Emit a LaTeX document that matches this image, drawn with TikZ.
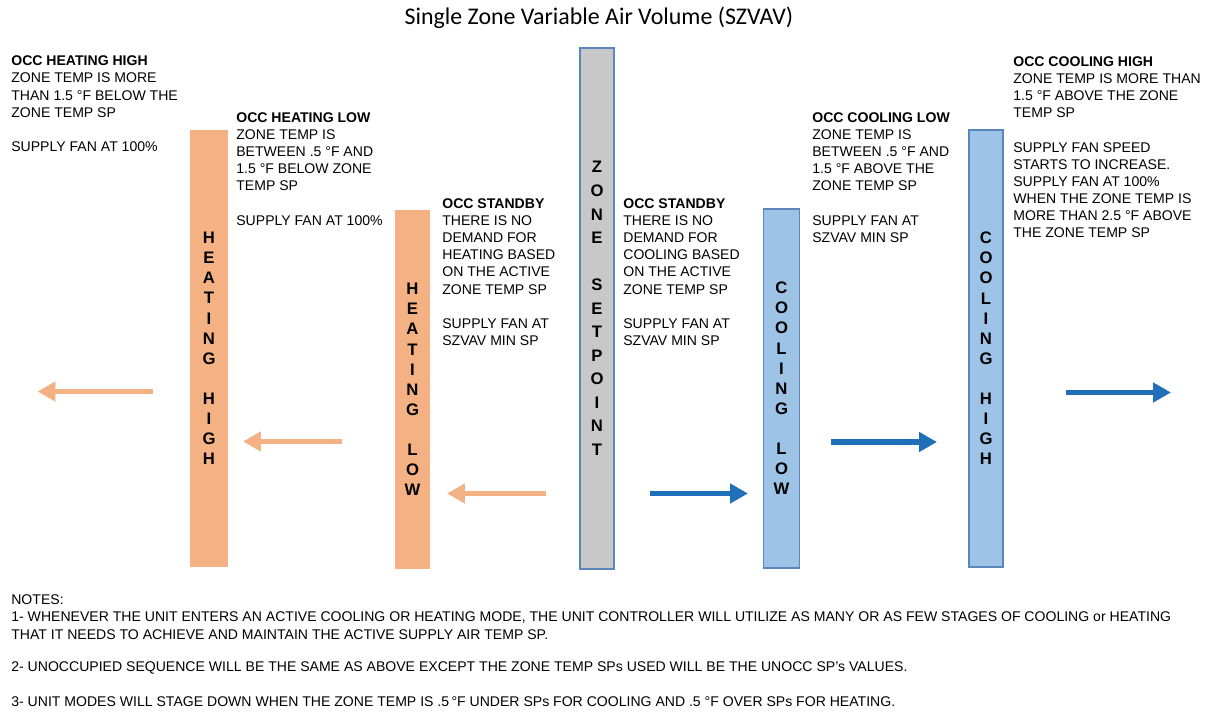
\documentclass[tikz,border=0pt]{standalone}
\usepackage{fontspec}
\setmainfont{Liberation Sans}
\newfontfamily\titlefont{Carlito}
\usepackage{tikz}
\usetikzlibrary{arrows.meta}

\definecolor{heatorange}{HTML}{F4B183}
\definecolor{coolblue}{HTML}{9DC3E6}
\definecolor{edgeblue}{HTML}{5A86BC}
\definecolor{spgray}{HTML}{C8C8CA}
\definecolor{arrowblue}{HTML}{1F70B8}

\tikzset{
  txt/.style={anchor=north west, align=left, inner sep=0pt, font=\fontsize{8}{9.75}\selectfont},
  bar/.style={rectangle, inner sep=0pt, align=center, font=\fontsize{9.5}{11.45}\selectfont\bfseries},
  heatbar/.style={bar, fill=heatorange},
  coolbar/.style={bar, fill=coolblue, draw=edgeblue, line width=1pt},
  heatarrow/.style={heatorange, line width=3.4pt, -{Triangle[width=10.8pt,length=10.2pt]}},
  coolarrow/.style={arrowblue, line width=3.4pt, -{Triangle[width=10.8pt,length=10.2pt]}}
}

\begin{document}
\begin{tikzpicture}[x=0.02cm, y=-0.02cm]

%\draw[help lines, step=50] (0,0) grid (1205,713);
\useasboundingbox (0,0) rectangle (1205,713);

\node[anchor=base, inner sep=0pt, font=\titlefont\fontsize{13.6}{16}\selectfont] (title) at (599,25) {Single Zone Variable Air Volume (SZVAV)};

% bars
\node[heatbar, minimum width=0.76cm, minimum height=8.74cm] (hhigh) at (209,348.5) {H\\E\\A\\T\\I\\N\\G\\[11.45pt]H\\I\\G\\H};
\node[heatbar, minimum width=0.70cm, minimum height=7.18cm] (hlow) at (412.5,389.5) {H\\E\\A\\T\\I\\N\\G\\[11.45pt]L\\O\\W};
\node[bar, fill=spgray, draw=edgeblue, line width=1pt, minimum width=0.68cm, minimum height=10.42cm,
      font=\fontsize{9.5}{13.4}\selectfont\bfseries] (zsp) at (597,308.5) {Z\\O\\N\\E\\[13.4pt]S\\E\\T\\P\\O\\I\\N\\T};
\node[coolbar, minimum width=0.72cm, minimum height=7.18cm] (clow) at (781.5,388.5) {C\\O\\O\\L\\I\\N\\G\\[11.45pt]L\\O\\W};
\node[coolbar, minimum width=0.68cm, minimum height=8.74cm] (chigh) at (986,348.5) {C\\O\\O\\L\\I\\N\\G\\[11.45pt]H\\I\\G\\H};

% mode texts (top = first baseline - cap height)
\node[txt] (hhightxt) at (11,55.7) {\textbf{OCC HEATING HIGH}\\ZONE TEMP IS MORE\\THAN 1.5 °F BELOW THE\\ZONE TEMP SP\\[9.75pt]SUPPLY FAN AT 100\%};
\node[txt] (hlowtxt) at (236,112.2) {\textbf{OCC HEATING LOW}\\ZONE TEMP IS\\BETWEEN .5 °F AND\\1.5 °F BELOW ZONE\\TEMP SP\\[9.75pt]SUPPLY FAN AT 100\%};
\node[txt] (hstbtxt) at (442,198.2) {\textbf{OCC STANDBY}\\THERE IS NO\\DEMAND FOR\\HEATING BASED\\ON THE ACTIVE\\ZONE TEMP SP\\[9.75pt]SUPPLY FAN AT\\SZVAV MIN SP};
\node[txt] (cstbtxt) at (623,198.2) {\textbf{OCC STANDBY}\\THERE IS NO\\DEMAND FOR\\COOLING BASED\\ON THE ACTIVE\\ZONE TEMP SP\\[9.75pt]SUPPLY FAN AT\\SZVAV MIN SP};
\node[txt] (clowtxt) at (812,112.2) {\textbf{OCC COOLING LOW}\\ZONE TEMP IS\\BETWEEN .5 °F AND\\1.5 °F ABOVE THE\\ZONE TEMP SP\\[9.75pt]SUPPLY FAN AT\\SZVAV MIN SP};
\node[txt] (chightxt) at (1013,56.2) {\textbf{OCC COOLING HIGH}\\ZONE TEMP IS MORE THAN\\1.5 °F ABOVE THE ZONE\\TEMP SP\\[9.75pt]SUPPLY FAN SPEED\\STARTS TO INCREASE.\\SUPPLY FAN AT 100\%\\WHEN THE ZONE TEMP IS\\MORE THAN 2.5 °F ABOVE\\THE ZONE TEMP SP};

% arrow ends
\coordinate (ha1) at (152.5,391.5);
\coordinate (hb1) at (37.5,391.5);
\coordinate (ha2) at (342,441.5);
\coordinate (hb2) at (243,441.5);
\coordinate (ha3) at (545.5,493.5);
\coordinate (hb3) at (447,493.5);
\coordinate (ca3) at (650,493.5);
\coordinate (cb3) at (748,493.5);
\coordinate (ca2) at (831,442);
\coordinate (cb2) at (937,442);
\coordinate (ca1) at (1066,392.5);
\coordinate (cb1) at (1171,392.5);

\draw[heatarrow] (ha1) -- (hb1); % heating high
\draw[heatarrow] (ha2) -- (hb2); % heating low
\draw[heatarrow] (ha3) -- (hb3); % standby
\draw[coolarrow] (ca3) -- (cb3); % standby
\draw[coolarrow] (ca2) -- (cb2); % cooling low
\draw[coolarrow] (ca1) -- (cb1); % cooling high

% notes
\node[txt] (notes) at (11,594.7) {NOTES:\\1- WHENEVER THE UNIT ENTERS AN ACTIVE COOLING OR HEATING MODE, THE UNIT CONTROLLER WILL UTILIZE AS MANY OR AS FEW STAGES OF COOLING or HEATING\\THAT IT NEEDS TO ACHIEVE AND MAINTAIN THE ACTIVE SUPPLY AIR TEMP SP.\\[8.5pt]2- UNOCCUPIED SEQUENCE WILL BE THE SAME AS ABOVE EXCEPT THE ZONE TEMP SPs USED WILL BE THE UNOCC SP’s VALUES.\\[10.2pt]3- UNIT MODES WILL STAGE DOWN WHEN THE ZONE TEMP IS .5\,°F UNDER SPs FOR COOLING AND .5 °F OVER SPs FOR HEATING.};

\end{tikzpicture}
\end{document}
